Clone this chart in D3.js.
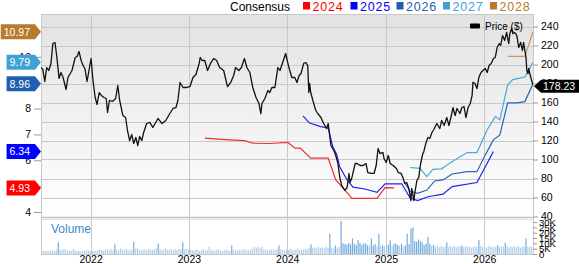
<!DOCTYPE html>
<html><head><meta charset="utf-8">
<script src="https://cdn.jsdelivr.net/npm/d3@7"></script>
<style>body{margin:0;background:#fff}svg{display:block}text{font-family:"Liberation Sans",Arial,sans-serif}</style>
</head><body><svg id="c" width="579" height="264"></svg>
<script>
// ---------- DATA ----------
const priceDates = ["2021-07-01","2021-07-08","2021-07-15","2021-07-22","2021-07-30","2021-08-07","2021-08-14","2021-08-22","2021-08-29","2021-09-06","2021-09-13","2021-09-21","2021-10-02","2021-10-09","2021-10-24","2021-11-05","2021-11-12","2021-11-19","2021-11-27","2021-12-04","2021-12-11","2021-12-19","2021-12-26","2022-01-03","2022-01-10","2022-01-18","2022-01-25","2022-02-02","2022-02-10","2022-02-20","2022-02-28","2022-03-05","2022-03-12","2022-03-23","2022-04-04","2022-04-12","2022-04-19","2022-05-01","2022-05-11","2022-05-18","2022-05-26","2022-06-03","2022-06-10","2022-06-18","2022-06-25","2022-07-02","2022-07-10","2022-07-17","2022-07-28","2022-08-09","2022-08-20","2022-09-08","2022-09-23","2022-10-07","2022-10-22","2022-11-03","2022-11-14","2022-11-21","2022-11-29","2022-12-10","2022-12-24","2023-01-05","2023-01-16","2023-01-27","2023-02-08","2023-02-12","2023-02-19","2023-03-01","2023-03-11","2023-03-22","2023-04-03","2023-04-14","2023-04-25","2023-05-10","2023-05-24","2023-06-05","2023-06-16","2023-06-23","2023-07-05","2023-07-15","2023-07-26","2023-08-04","2023-08-15","2023-08-26","2023-09-07","2023-09-18","2023-09-25","2023-09-29","2023-10-10","2023-10-21","2023-10-28","2023-11-05","2023-11-16","2023-11-27","2023-12-05","2023-12-15","2023-12-26","2024-01-07","2024-01-18","2024-01-29","2024-02-06","2024-02-14","2024-02-21","2024-03-02","2024-03-10","2024-03-17","2024-03-21","2024-03-24","2024-03-28","2024-04-05","2024-04-16","2024-04-23","2024-05-05","2024-05-15","2024-05-26","2024-06-01","2024-06-11","2024-06-22","2024-06-29","2024-07-07","2024-07-14","2024-07-21","2024-08-02","2024-08-10","2024-08-17","2024-08-21","2024-08-28","2024-09-09","2024-09-16","2024-09-27","2024-10-08","2024-10-19","2024-10-26","2024-11-07","2024-11-18","2024-11-26","2024-12-03","2024-12-10","2024-12-21","2024-12-25","2025-01-02","2025-01-10","2025-01-17","2025-01-28","2025-02-09","2025-02-16","2025-02-27","2025-03-05","2025-03-12","2025-03-19","2025-03-27","2025-04-04","2025-04-07","2025-04-15","2025-04-18","2025-04-26","2025-05-03","2025-05-10","2025-05-18","2025-05-21","2025-05-29","2025-06-06","2025-06-13","2025-06-21","2025-06-28","2025-07-09","2025-07-20","2025-07-27","2025-08-05","2025-08-15","2025-08-23","2025-09-01","2025-09-07","2025-09-15","2025-09-22","2025-10-03","2025-10-10","2025-10-18","2025-10-25","2025-11-02","2025-11-10","2025-11-17","2025-11-20","2025-11-28","2025-12-05","2025-12-12","2025-12-20","2025-12-27","2026-01-05","2026-01-12","2026-01-19","2026-01-27","2026-02-04","2026-02-11","2026-02-18","2026-02-26","2026-03-03","2026-03-10","2026-03-18","2026-03-25","2026-04-02","2026-04-06","2026-04-13","2026-04-17","2026-04-24","2026-05-02","2026-05-09","2026-05-16","2026-05-23","2026-05-27","2026-06-05","2026-06-08","2026-06-12","2026-06-15","2026-06-19","2026-06-26","2026-07-01"];
const priceValues = [196.8,194.7,182.1,196.8,193.7,201.1,222.1,223.2,207.4,185.3,191.6,186.3,173.7,186.3,193.7,207.4,208.4,213.7,204.2,198.9,195.8,182.1,193.7,206.3,183.2,165.3,157.9,170.5,167.4,165.3,164.2,149.5,162.1,161.1,164.2,177.9,162.1,146.3,144.2,130.5,120,126.3,116.8,123.2,114.7,124.2,120,128.4,137.9,139,133.7,143.2,137.9,141.1,148.4,153.7,154.7,162.1,181.1,175.8,175.8,176.8,186.3,189.5,201.1,207.4,204.2,204.2,193.7,201.1,206.3,204.2,196.8,193.7,176.8,181.1,188.4,196.8,193.7,196.8,206.3,196.8,191.6,175.8,165.3,158.9,148.4,158.9,164.2,172.6,170.5,175.8,175.8,196.8,193.7,202.1,211.6,196.8,186.3,186.3,181.1,188.4,190.5,201.1,202.1,198.9,170.5,180,170.5,162.1,151.6,148.4,144.2,137.9,132.6,137.9,114.7,109.5,104.2,95.8,81.1,72.6,67.4,70.5,85.3,75.8,81.1,95.8,95.8,93.7,93.7,95.8,86.3,85.3,85.3,93.7,111.6,106.3,107.4,101.1,96.8,104.2,95.8,93.7,90.5,86.3,85.3,81.1,74.7,75.8,69.5,56.8,69.5,56.8,64.2,77.9,81.1,95.8,106.3,107.4,116.8,123.2,122.1,128.4,131.6,137.9,132.6,141.1,135.8,144.2,135.8,146.3,154.7,146.3,153.7,148.4,154.7,155.8,144.2,154.7,158.9,167.4,181.1,180,174.7,186.3,191.6,193.7,195.8,191.6,198.9,201.1,206.3,207.4,217.9,222.1,220,230.5,225.3,233.7,222.1,232.6,237.9,232.6,233.7,230.5,217.9,223.2,214.7,223.2,207.4,193.7,190.5,195.8,190.5,183.2,178.23];

const eps2024Dates = ["2023-03-01","2023-06-01","2023-07-27","2023-08-26","2023-10-28","2024-01-04","2024-01-29","2024-02-18","2024-03-28","2024-06-01","2024-06-29","2024-08-02","2024-08-28","2024-11-29","2024-12-29","2025-02-01"];
const eps2024Values = [6.86,6.79,6.76,6.66,6.65,6.69,6.47,6.47,6.08,6.08,5.24,4.85,4.53,4.53,4.94,4.93];
const eps2025Dates = ["2024-02-28","2024-03-24","2024-05-01","2024-06-01","2024-06-18","2024-07-03","2024-07-14","2024-08-10","2024-09-01","2024-10-15","2024-11-29","2024-12-29","2025-03-01","2025-04-01","2025-04-29","2025-06-06","2025-08-01","2025-09-04","2025-12-05","2026-02-04"];
const eps2025Values = [7.72,7.44,7.31,7.24,6.52,6.21,5.74,5.24,4.96,4.89,4.76,5.09,5.09,4.54,4.44,4.59,4.69,4.98,5.14,6.34];
const eps2026Dates = ["2025-03-12","2025-04-01","2025-04-29","2025-06-02","2025-07-01","2025-08-01","2025-09-04","2025-10-29","2025-12-05","2026-01-05","2026-02-04","2026-02-28","2026-03-29","2026-05-02","2026-06-01","2026-07-01"];
const eps2026Values = [5.12,4.81,4.72,4.85,5.2,5.24,5.47,5.56,5.56,6.21,6.79,6.98,8.22,8.22,8.27,8.96];
const eps2027Dates = ["2025-04-01","2025-05-07","2025-06-02","2025-06-24","2025-07-27","2025-08-26","2025-10-29","2025-12-05","2026-01-12","2026-02-11","2026-02-28","2026-03-29","2026-04-17","2026-06-01","2026-07-01"];
const eps2027Values = [5.72,5.69,5.37,5.65,5.67,5.89,6.3,6.3,7.18,7.69,7.57,8.92,9.12,9.22,9.79];
const eps2028Dates = ["2026-03-29","2026-06-01","2026-07-01"];
const eps2028Values = [10.02,10.02,10.97];

const volumeStart = "2021-07-02"; // weekly bars, values in thousands
const volumeValues = [2.5,3,2.8,3.2,2.6,3,3.4,2.8,4,11,
4.5,3.8,5,4.2,3,3.6,2.8,4.8,3.2,2.6,
3,2.4,3.4,2.8,4,3.6,3,2.6,3.2,2.4,
3.6,4.4,3.8,3.2,4.2,5,3.4,4.8,3.6,9,
4,3.4,5.2,4.6,3.8,5,4.2,3.6,4.4,11.5,
4.8,5.6,4,3.6,4.2,4.8,3.4,5.2,4,3.8,
4.6,5,10,4.4,3.8,4.2,5.4,3.6,4,4.8,
3.4,4.6,3.8,5,4.2,11,4.6,5.2,4,4.4,
3.6,3.2,4.2,3.8,2.8,3.4,4.6,3.2,3.8,7,
4,3.4,3,3.8,4.4,3.2,2.8,3.6,4.2,3.4,
3,8,4.2,3.6,3.2,4,3.4,3.8,4.6,3.2,
3.6,4.2,5,7,6,6.5,5.4,7,4.6,4.2,
3.8,3.4,4.6,4,3.6,4.2,8,4.4,3.8,3.4,
4.2,3.6,4.8,4,3.4,4.4,5.2,3.8,4.6,4.2,
5,4.4,5.6,9,5.8,6.4,5.2,7,5.6,6.2,
5.4,6.8,5.8,19,6,5.2,8,5.4,6.6,31,
10,9.4,8.6,10.4,9,14.7,9.6,8.2,13,10.2,
8.6,10,9.8,8.2,7.6,14.7,8,9.4,7.2,19,
7.6,8,7.4,6.8,8.6,13,7.2,9.4,10,8.4,
7.8,9.6,7,8.2,19,9.2,24,25,12,11.4,
13.6,12,11,8.4,9.6,16,9.2,7.6,8.4,6.8,
7.2,6.4,7.8,6.6,7,11,6.8,7.4,6.2,7.6,
6.4,7.2,6.8,8,6.2,7.4,6.6,7,6,6.8,
7.4,6.4,13,7.8,6.6,7.2,6,6.8,7.6,6.2,
7,6.6,8.2,6.4,7.2,6.8,10.6,7.4,6.2,7,
6.6,7.8,6.4,7.2,6,6.8,7.4,14.5,6.6,7.2,
6.8];

const priceTicks = [40,60,80,100,120,140,160,180,200,220,240];
const epsTicks = [4,5,6,7,8,9,10];
const volumeTicks = [0,5,10,15,20,25,30];
const yearTicks = ["2022-01-01","2023-01-01","2024-01-01","2025-01-01","2026-01-01"];
const lastPrice = 178.23;
const seriesYears = ["2024","2025","2026","2027","2028"];
const seriesColors = ["#ff0000","#0000ff","#1f5fb0","#3fa2d4","#b87a2c"];
const seriesLineColors = ["#f03030","#2020f0","#2a66b8","#4aa8da","#c99b62"];
const seriesDates = [eps2024Dates,eps2025Dates,eps2026Dates,eps2027Dates,eps2028Dates];
const seriesValues = [eps2024Values,eps2025Values,eps2026Values,eps2027Values,eps2028Values];

// ---------- CHART ----------
const parse = d3.timeParse("%Y-%m-%d");
const L=41,R=533,T=14,PB=217,VT=219,VB=254;
const svg = d3.select("#c");
const x = d3.scaleTime().domain([parse("2021-07-01"),parse("2026-07-01")]).range([L,R]);
const yP = d3.scaleLinear().domain([40,240]).range([216.5,26.5]);
const yE = d3.scaleLinear().domain([4,11]).range([212,31]);
const yV = d3.scaleLinear().domain([0,30]).range([VB,222]);
const FONT = '"Liberation Sans",Arial,sans-serif';

const defs = svg.append("defs");
const g = defs.append("linearGradient").attr("id","bg").attr("x1",0).attr("y1",0).attr("x2",0).attr("y2",1);
g.append("stop").attr("offset","0%").attr("stop-color","#e2e2e2");
g.append("stop").attr("offset","100%").attr("stop-color","#ffffff");
defs.append("clipPath").attr("id","cp").append("rect").attr("x",L).attr("y",T).attr("width",R-L).attr("height",PB-T);
defs.append("clipPath").attr("id","cv").append("rect").attr("x",L).attr("y",VT).attr("width",R-L).attr("height",VB-VT);

svg.append("rect").attr("x",L).attr("y",T).attr("width",R-L).attr("height",PB-T).attr("fill","url(#bg)");
svg.append("rect").attr("x",L).attr("y",VT).attr("width",R-L).attr("height",VB-VT).attr("fill","#fff");

// gridlines
svg.append("g").selectAll("line").data(priceTicks).join("line")
  .attr("x1",L).attr("x2",R).attr("y1",d=>Math.round(yP(d))+0.5).attr("y2",d=>Math.round(yP(d))+0.5)
  .attr("stroke","#c8c8c8").attr("stroke-width",1);
svg.append("g").selectAll("line").data(yearTicks).join("line")
  .attr("x1",d=>Math.round(x(parse(d)))+0.5).attr("x2",d=>Math.round(x(parse(d)))+0.5).attr("y1",T).attr("y2",VB)
  .attr("stroke","#c8c8c8").attr("stroke-width",1);

// panel separator + frame
svg.append("line").attr("x1",L).attr("x2",R).attr("y1",PB+0.5).attr("y2",PB+0.5).attr("stroke","#c4c4c4").attr("stroke-width",1.5);
svg.append("line").attr("x1",L).attr("x2",R).attr("y1",VT+0.5).attr("y2",VT+0.5).attr("stroke","#e4e4e4");
svg.append("rect").attr("x",L+0.5).attr("y",T+0.5).attr("width",R-L).attr("height",VB-T)
  .attr("fill","none").attr("stroke","#c8c8c8");

// volume bars
const wk = d3.range(volumeValues.length).map(i=>d3.timeWeek.offset(parse(volumeStart),i));
svg.append("g").attr("clip-path","url(#cv)").selectAll("rect").data(volumeValues).join("rect")
  .attr("x",(d,i)=>x(wk[i])-0.6).attr("width",1.2)
  .attr("y",d=>yV(d)).attr("height",d=>VB-yV(d))
  .attr("fill",d=>d>=8?"#74acdc":"#b2cfeb");
svg.append("text").attr("x",51).attr("y",233).attr("font-size",12).attr("fill","#3d8bcd").text("Volume");

// EPS lines
const plot = svg.append("g").attr("clip-path","url(#cp)");
seriesYears.forEach((yr,k)=>{
  const pts = seriesDates[k].map((d,i)=>[x(parse(d)),yE(seriesValues[k][i])]);
  plot.append("path").attr("d",d3.line()(pts)).attr("fill","none")
    .attr("stroke",seriesLineColors[k]).attr("stroke-width",1.2);
});
// price line
const pp = priceDates.map((d,i)=>[x(parse(d)),yP(priceValues[i])]);
plot.append("path").attr("d",d3.line()(pp)).attr("fill","none").attr("stroke","#111").attr("stroke-width",1.3).attr("stroke-linejoin","round");

// axes
const ar = svg.append("g").attr("transform",`translate(${R},0)`)
  .call(d3.axisRight(yP).tickValues(priceTicks).tickSize(5).tickPadding(3).tickFormat(d3.format("d")));
ar.select(".domain").remove();
ar.selectAll("line").attr("stroke","#999");
ar.selectAll("text").attr("font-size",10.5).attr("fill","#000").style("font-family",FONT);

const av = svg.append("g").attr("transform",`translate(${R},0)`)
  .call(d3.axisRight(yV).tickValues(volumeTicks).tickSize(4).tickPadding(2).tickFormat(d=>d===0?"0":d+"K"));
av.select(".domain").remove();
av.selectAll("line").attr("stroke","#999");
av.selectAll("text").attr("font-size",9.5).attr("fill","#000").style("font-family",FONT);

const al = svg.append("g").attr("transform",`translate(${L},0)`)
  .call(d3.axisLeft(yE).tickValues(epsTicks).tickSize(7).tickPadding(3).tickFormat(d3.format("d")));
al.select(".domain").remove();
al.selectAll("line").attr("stroke","#999");
al.selectAll("text").attr("font-size",10.5).attr("fill","#000").style("font-family",FONT);

const ab = svg.append("g").attr("transform",`translate(0,${VB})`)
  .call(d3.axisBottom(x).tickValues(yearTicks.map(parse)).tickSize(0).tickPadding(1.5).tickFormat(d3.timeFormat("%Y")));
ab.select(".domain").remove();
ab.selectAll("text").attr("font-size",10.5).attr("fill","#000").style("font-family",FONT);

// EPS value tags
seriesYears.forEach((yr,k)=>{
  const v = seriesValues[k][seriesValues[k].length-1];
  const cy = yE(v);
  const gg = svg.append("g");
  const p = gg.append("path").attr("fill",seriesColors[k]);
  const t = gg.append("text").attr("x",30).attr("y",cy).attr("dy","0.36em").attr("text-anchor","end")
    .attr("font-size",10.5).attr("fill","#fff").text(v.toFixed(2));
  const w = t.node().getComputedTextLength();
  const x0 = 30-w-3;
  p.attr("d",`M${x0},${cy-7.5}L35,${cy-7.5}L41,${cy}L35,${cy+7.5}L${x0},${cy+7.5}Z`);
});

// last price tag
{
  const cy = yP(lastPrice)+1;
  const gg = svg.append("g");
  gg.append("path").attr("fill","#000").attr("d",`M534,${cy}L541,${cy-6.5}L579,${cy-6.5}L579,${cy+6.5}L541,${cy+6.5}Z`);
  gg.append("text").attr("x",543).attr("y",cy).attr("dy","0.36em").attr("font-size",10.5).attr("fill","#fff").text(lastPrice.toFixed(2));
}

// price legend
svg.append("rect").attr("x",470).attr("y",23.5).attr("width",10).attr("height",5).attr("rx",1).attr("fill","#000");
svg.append("text").attr("x",485).attr("y",26).attr("dy","0.36em").attr("font-size",10).attr("fill","#000").text("Price ($)");

// top legend
svg.append("text").attr("x",230).attr("y",10.5).attr("font-size",12).attr("fill","#000").text("Consensus");
const lx = [303,350.5,396.5,443,490];
seriesYears.forEach((yr,k)=>{
  svg.append("rect").attr("x",lx[k]).attr("y",2).attr("width",7).attr("height",7.5).attr("fill",seriesColors[k]);
  svg.append("text").attr("x",lx[k]+9.5).attr("y",10.5).attr("font-size",12.5).attr("letter-spacing",0.8)
    .attr("fill",seriesColors[k]).text(yr);
});
</script></body></html>
